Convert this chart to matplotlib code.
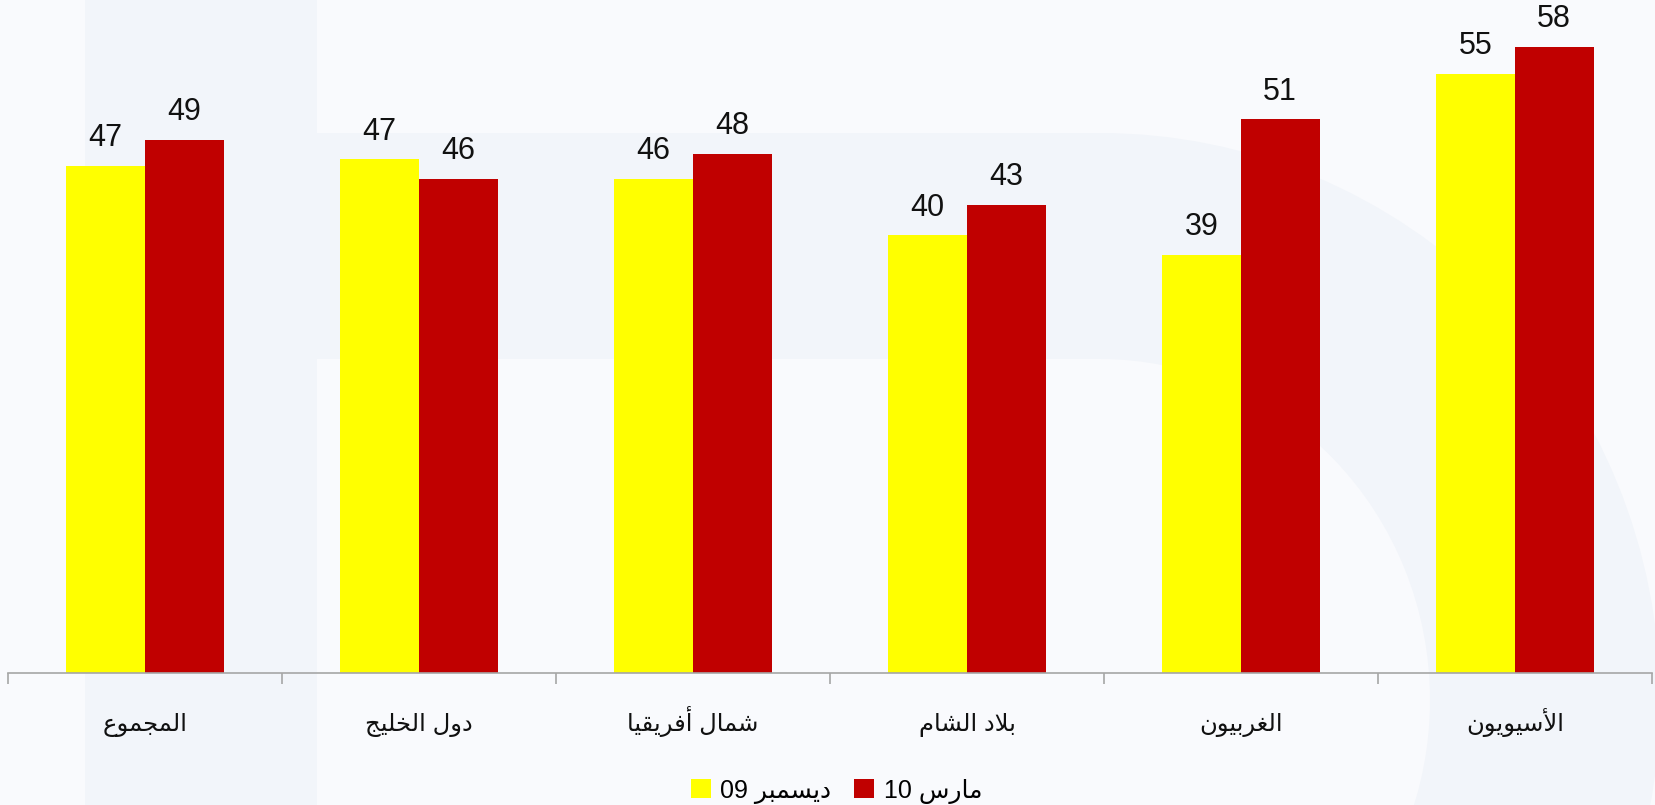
import unicodedata
import matplotlib
matplotlib.use("Agg")
import matplotlib.pyplot as plt
from matplotlib.patches import Rectangle, Ellipse
from matplotlib.ticker import FixedLocator

# ---------------- data ----------------
categories = ["المجموع", "دول الخليج", "شمال أفريقيا", "بلاد الشام", "الغربيون", "الأسيويون"]
dec09 = [46.8, 47.4, 45.6, 40.4, 38.6, 55.3]
mar10 = [49.2, 45.6, 47.9, 43.2, 51.1, 57.8]
series_names = ["ديسمبر", "مارس"]
series_years = ["09", "10"]
colors = ["#FFFF00", "#C00000"]

# ------------- minimal Arabic shaping -------------
def _form(ch, form):
    name = unicodedata.name(ch)
    try:
        return unicodedata.lookup(name + " " + form + " FORM")
    except KeyError:
        return None

def _is_arabic(ch):
    return "ARABIC" in unicodedata.name(ch, "")

def _dual(tok):
    if len(tok) > 1:
        return False
    return _form(tok, "INITIAL") is not None

def shape_word(word):
    toks = []
    i = 0
    while i < len(word):
        c = word[i]
        if c == "\u0644" and i + 1 < len(word) and word[i + 1] in "\u0627\u0623\u0625\u0622":
            toks.append(c + word[i + 1]); i += 2
        else:
            toks.append(c); i += 1
    out = []
    for k, t in enumerate(toks):
        prev_j = k > 0 and _is_arabic(toks[k - 1][0]) and _dual(toks[k - 1])
        next_j = k + 1 < len(toks) and _dual(t) and _is_arabic(toks[k + 1][0])
        if len(t) > 1:
            base = "ARABIC LIGATURE LAM WITH " + unicodedata.name(t[1]).replace("ARABIC LETTER ", "")
            out.append(unicodedata.lookup(base + (" FINAL FORM" if prev_j else " ISOLATED FORM")))
            continue
        form = "MEDIAL" if (prev_j and next_j) else "FINAL" if prev_j else "INITIAL" if next_j else "ISOLATED"
        g = _form(t, form) or _form(t, "FINAL" if prev_j else "ISOLATED") or t
        out.append(g)
    return "".join(out)

def rtl(text):
    shaped = " ".join(shape_word(w) for w in text.split(" "))
    return shaped[::-1]

# ---------------- plot ----------------
FAM = ["Liberation Sans", "DejaVu Sans"]
plt.rcParams["font.family"] = FAM

W, H = 1655, 805
BG = "#F9FAFD"
WM = "#F2F5FA"
fig = plt.figure(figsize=(W / 100, H / 100), dpi=100)
fig.patch.set_facecolor(BG)

def frect(x0, y0, x1, y1, c, z):
    fig.patches.append(Rectangle((x0 / W, 1 - y1 / H), (x1 - x0) / W, (y1 - y0) / H,
                                 transform=fig.transFigure, facecolor=c, edgecolor="none", zorder=z))

def fell(cx, cy, rx, ry, c, z):
    fig.patches.append(Ellipse((cx / W, 1 - cy / H), 2 * rx / W, 2 * ry / H,
                               transform=fig.transFigure, facecolor=c, edgecolor="none", zorder=z))

# faint "D"-shaped watermark
frect(317, 133, 1100, 900, WM, -12)
fell(1100, 700, 560, 567, WM, -12)
frect(317, 359, 1100, 900, BG, -11)
fell(1100, 700, 330, 341, BG, -11)
frect(85, 0, 317, 805, WM, -10)

ax = fig.add_axes([8 / W, (H - 673) / H, (1652 - 8) / W, 673 / H])
ax.set_facecolor("none")

x = list(range(len(categories)))
bw = 0.2866
b1 = ax.bar([v - bw / 2 for v in x], dec09, width=bw, color=colors[0], zorder=2)
b2 = ax.bar([v + bw / 2 for v in x], mar10, width=bw, color=colors[1], zorder=2)

for bars, vals in ((b1, dec09), (b2, mar10)):
    for r, v in zip(bars, vals):
        ax.annotate(f"{round(v):d}", (r.get_x() + r.get_width() / 2, r.get_height()),
                    xytext=(0, 14), textcoords="offset points", ha="center", va="baseline",
                    fontsize=22, color="#111111", family=FAM)

ax.set_xlim(-0.5, len(categories) - 0.5)
ax.set_ylim(0, 62.1)
for s in ("top", "left", "right"):
    ax.spines[s].set_visible(False)
ax.spines["bottom"].set_color("#A6A6A6")
ax.spines["bottom"].set_linewidth(1.2)
ax.set_yticks([])

ax.set_xticks(x)
ax.set_xticklabels([rtl(c) for c in categories], fontsize=17.5, family=FAM, color="#111111")
for t in ax.get_xticklabels():
    t.set_va("baseline")
ax.tick_params(axis="x", which="major", length=0, pad=42)
ax.xaxis.set_minor_locator(FixedLocator([i - 0.5 for i in range(len(categories) + 1)]))
ax.tick_params(axis="x", which="minor", length=8, width=1.2, color="#A6A6A6", direction="out")

labels = [f"{yr} {rtl(nm)}" for nm, yr in zip(series_names, series_years)]
fig.legend([b1, b2], labels, loc="center", bbox_to_anchor=(0.5 + 9 / W, 14 / H), ncol=2, frameon=False,
           handlelength=0.8, handleheight=0.8, handletextpad=0.4, columnspacing=0.9,
           prop={"family": FAM, "size": 18})

fig.savefig("out.png", dpi=100, facecolor=fig.get_facecolor())
